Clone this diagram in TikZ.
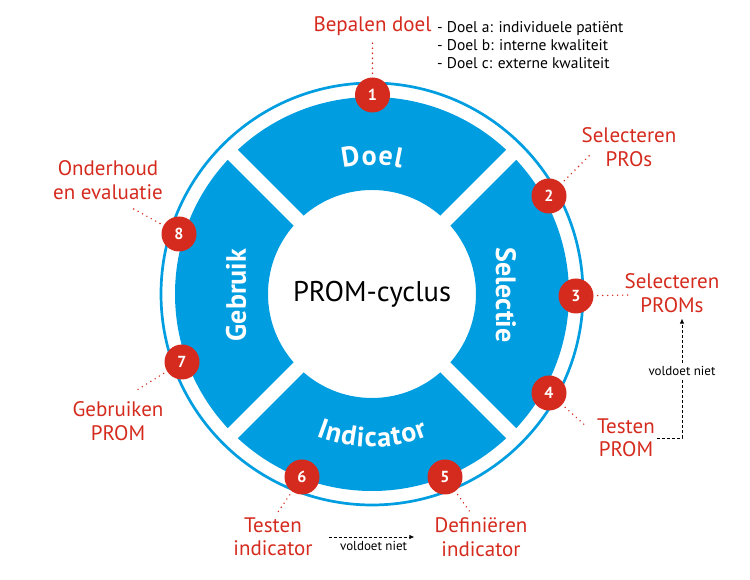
\documentclass[tikz,border=0pt]{standalone}
\usepackage{fontspec}
\setmainfont{PT Sans}
\usetikzlibrary{arrows.meta,decorations.text}

\definecolor{promred}{RGB}{213,43,30}
\definecolor{promblue}{RGB}{0,158,224}
\newcommand\segfont{\bfseries\fontsize{28}{28}\selectfont}

\tikzset{
  badge/.style={circle, fill=promred, text=white, minimum size=35pt, inner sep=0pt,
    font=\bfseries\fontsize{16}{16}\selectfont},
  stap/.style={text=promred, align=center, inner sep=2pt, font=\fontsize{21}{23.5}\selectfont},
  dots/.style={promred, line width=1.6pt, line cap=round, dash pattern=on 0pt off 5pt,
    shorten <=4pt},
  vn/.style={black, line width=0.8pt, dash pattern=on 3pt off 2pt,
    -{Latex[length=5pt,width=4.5pt]}},
  vlab/.style={font=\fontsize{13}{13}\selectfont, inner sep=4pt},
  segtekst/.style={decorate, decoration={text effects along path, text={#1}, text align=center,
    text effects/.cd, text along path, characters={text=white, font=\segfont, inner xsep=0pt},
    character widths={inner xsep=0.5pt, font=\segfont}}}
}

\begin{document}
\begin{tikzpicture}[x=1pt,y=1pt]
    \useasboundingbox (0,0) rectangle (750,580);
    \coordinate (C) at (372,286);

    % ring with four segments
    \fill[promblue, even odd rule] (C) circle [radius=197pt] (C) circle [radius=104pt];
    \foreach \a in {45,135,225,315}
        \draw[white, line width=14pt] (C) ++(\a:100pt) -- ++(\a:102pt);
    \draw[promblue, line width=2.7pt] (C) circle [radius=211pt];

    \node[font=\fontsize{28.5}{28.5}\selectfont] (cyclus) at (C) {PROM-cyclus};

    % segment names
    \path[segtekst=Doel] (C) ++(135:129pt) arc [start angle=135, end angle=45, radius=129pt];
    \path[segtekst=Indicator] (C) ++(-135:153pt) arc [start angle=-135, end angle=-45, radius=153pt];
    \node[rotate=-90, text=white, font=\segfont] (selectie) at (506,285) {Selectie};
    \node[rotate=90, text=white, font=\segfont] (gebruik) at (236,285) {Gebruik};

    % steps
    \node[badge] (b1) at (372.5,485) {1};
    \node[badge] (b2) at (549,384) {2};
    \node[badge] (b3) at (576,284) {3};
    \node[badge] (b4) at (549,187) {4};
    \node[badge] (b5) at (445,103) {5};
    \node[badge] (b6) at (302,103) {6};
    \node[badge] (b7) at (182,218) {7};
    \node[badge] (b8) at (179,346) {8};

    \node[stap] (l1) at (372.5,554) {Bepalen doel};
    \node[stap] (l2) at (629,433) {Selecteren\\PROs};
    \node[stap] (l3) at (672,287) {Selecteren\\PROMs};
    \node[stap] (l4) at (626,142) {Testen\\PROM};
    \node[stap] (l5) at (481,43) {Definiëren\\indicator};
    \node[stap] (l6) at (273,43) {Testen\\indicator};
    \node[stap] (l7) at (118,159) {Gebruiken\\PROM};
    \node[stap] (l8) at (108,400) {Onderhoud\\en evaluatie};

    \node[anchor=west, align=left, inner sep=0pt, font=\fontsize{15.5}{18.3}\selectfont]
        (doelen) at (437,535) {- Doel a: individuele patiënt\\- Doel b: interne kwaliteit\\- Doel c: externe kwaliteit};

    % dotted leaders
    \coordinate (e2) at (590,425);
    \coordinate (e3) at (630,285);
    \coordinate (e4) at (587,153);
    \coordinate (e5) at (470,68);
    \coordinate (e6) at (278,68);
    \coordinate (e7) at (137,190);
    \coordinate (e8) at (132,372);
    \draw[dots, shorten >=3pt] (b1) -- (l1);
    \foreach \i in {2,...,8}
        \draw[dots] (b\i) -- (e\i);

    % back arrows
    \draw[vn, shorten >=4pt] (l4.east) -| node[pos=0.77, vlab, fill=white] (vn1) {voldoet niet}
        ([xshift=10pt]l3.south);
    \draw[vn, shorten <=14pt, shorten >=18pt] (l6.east) -- node[below, vlab] (vn2) {voldoet niet} (l5.west);
\end{tikzpicture}
\end{document}
